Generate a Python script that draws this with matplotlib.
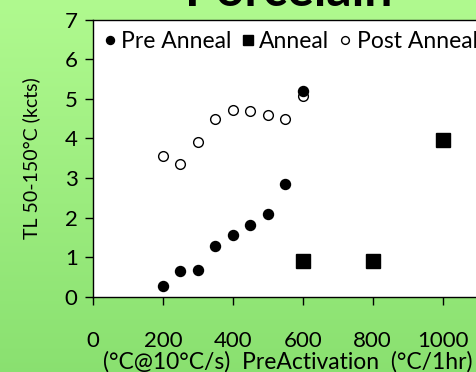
import numpy as np
import matplotlib.pyplot as plt

plt.rcParams['font.family'] = ['Lato', 'DejaVu Sans']

pre_x = [200, 250, 300, 350, 400, 450, 500, 550, 600]
pre_y = [0.28, 0.65, 0.67, 1.28, 1.55, 1.80, 2.10, 2.85, 5.20]
ann_x = [600, 800, 1000]
ann_y = [0.90, 0.90, 3.96]
post_x = [200, 250, 300, 350, 400, 450, 500, 550, 600]
post_y = [3.56, 3.34, 3.90, 4.50, 4.71, 4.69, 4.59, 4.50, 5.08]
xticks = [0, 200, 400, 600, 800, 1000]

fig = plt.figure(figsize=(4.77, 3.72), dpi=100)

# green gradient backdrop
bg = fig.add_axes([0, 0, 1, 1], zorder=-10)
grad = np.linspace(0, 1, 256).reshape(-1, 1)
top = np.array([0.69, 0.98, 0.56])
bot = np.array([0.54, 0.88, 0.44])
img = top + (bot - top) * grad[:, :, None]
bg.imshow(img, aspect='auto', extent=[0, 1, 0, 1])
bg.set_xlim(0, 1)
bg.set_ylim(0, 1)
bg.axis('off')

W, H = 477, 372
left, right, bottom, topy = 93, 512.6, 296.7, 19.5
ax = fig.add_axes([left / W, 1 - bottom / H, (right - left) / W, (bottom - topy) / H])
ax.set_facecolor('white')

ax.plot(pre_x, pre_y, 'o', color='black', ms=7.2, label='Pre Anneal', zorder=3)
ax.plot(ann_x, ann_y, 's', color='black', ms=9.5, label='Anneal', zorder=3)
ax.plot(post_x, post_y, 'o', mfc='white', mec='black', mew=1.0, ms=7.0,
        label='Post Anneal', zorder=2)

ax.set_xlim(0, 1200)
ax.set_ylim(0, 7)
ax.set_xticks(xticks)
ax.set_yticks(range(8))
ax.tick_params(direction='out', length=6, width=1, labelsize=16, colors='black')
ax.tick_params(axis='x', pad=18.5)
ax.tick_params(axis='y', pad=5)
for s in ax.spines.values():
    s.set_linewidth(1)
    s.set_color('black')

leg = ax.legend(loc='upper left', bbox_to_anchor=(-0.012, 1.0), ncol=3, frameon=False,
                fontsize=16.5, handletextpad=0.05, columnspacing=0.25, markerscale=0.8,
                handlelength=0.9, borderaxespad=0.1)

fig.text(31 / W, 1 - 158 / H, 'TL 50-150°C (kcts)', rotation=90, ha='center', va='center',
         fontsize=14)
fig.text(288 / W, 1 - 362 / H, '(°C@10°C/s)  PreActivation  (°C/1hr)', ha='center',
         va='center', fontsize=16.5)
fig.text(289 / W, 1 - 6 / H, 'Porcelain', ha='center', va='baseline', fontsize=36,
         fontweight='bold')

fig.savefig('out.png', dpi=100)
